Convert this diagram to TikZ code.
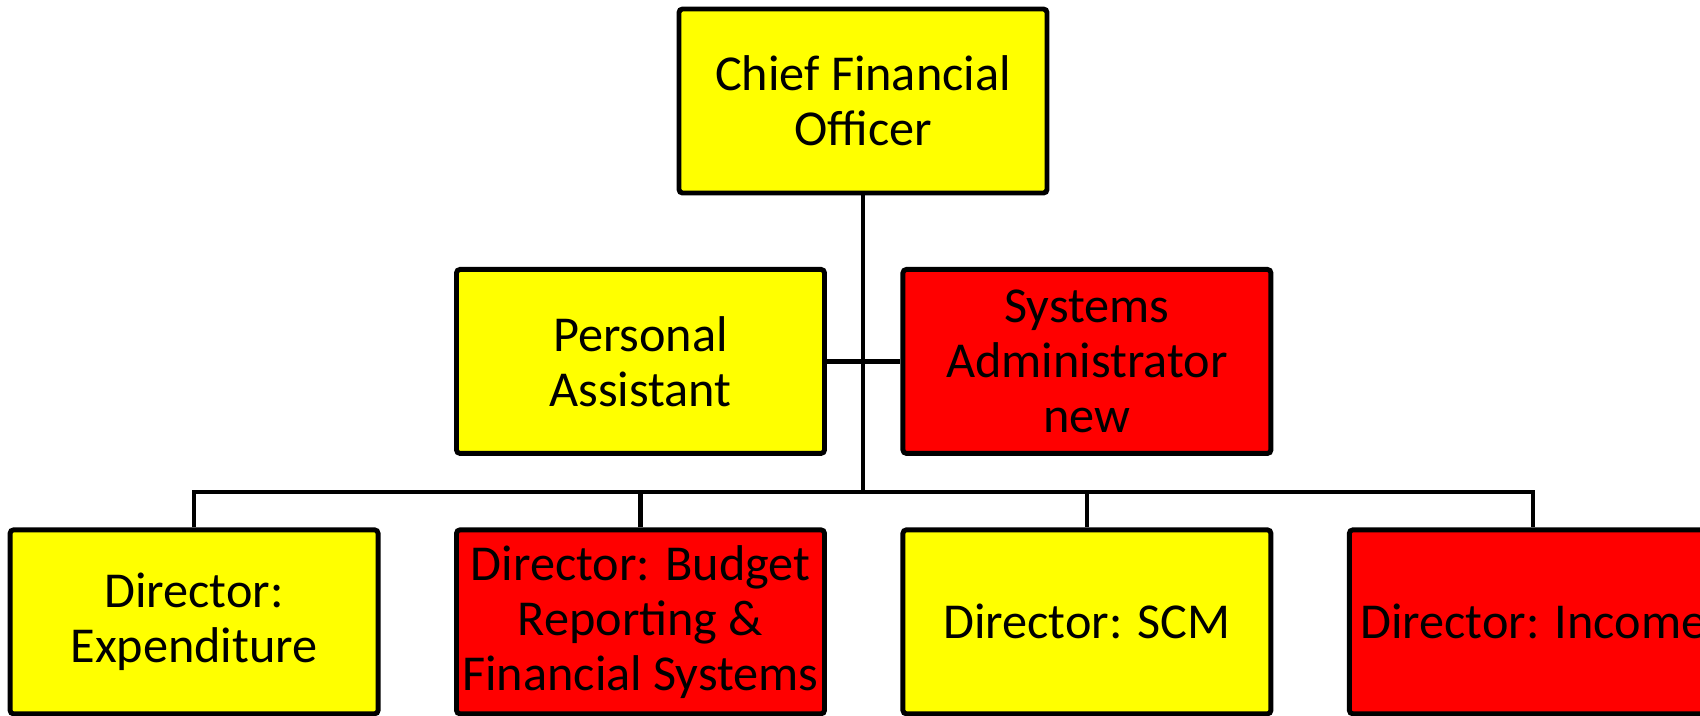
\documentclass[tikz,border=0pt]{standalone}
\usepackage{fontspec}
\setmainfont{Carlito}
\usetikzlibrary{positioning}

\definecolor{postyellow}{RGB}{255,255,0}
\definecolor{postred}{RGB}{255,0,0}

\tikzset{
    post/.style={rectangle,draw=black,line width=1.4pt,rounded corners=1pt,
        minimum width=3.68cm,minimum height=1.84cm,inner sep=1pt,align=center,
        font=\fontsize{14.3}{15.6}\selectfont},
    filled/.style={post,fill=postyellow},
    vacant/.style={post,fill=postred},
    link/.style={line width=1.2pt}
}

\begin{document}
\begin{tikzpicture}[node distance=0.715cm and 0.735cm]
    \useasboundingbox (0,0) rectangle (17,-7.15);

    \node[filled] (CFO) at (8.63,-1.01) {Chief Financial\\Officer};
    \node[filled,below=of CFO,xshift=-2.225cm] (PA) {Personal\\Assistant};
    \node[vacant,right=of PA] (SA) {Systems\\Administrator\\new};

    \node[vacant,below=of PA] (BRF) {Director: Budget\\Reporting \&\\Financial Systems};
    \node[filled,left=of BRF] (EXP) {Director:\\Expenditure};
    \node[filled,below=of SA] (SCM) {Director: SCM};
    \node[vacant,right=of SCM] (INC) {Director: Income};

    \coordinate (bus) at (CFO |- 0,-4.92);

    \draw[link] (CFO) -- (bus);
    \draw[link] (PA) -- (SA);
    \draw[link] (EXP.north) |- (bus) -| (INC.north);
    \foreach \u / \v in {BRF/bus,SCM/bus}
        \draw[link] (\u) -- (\u |- \v);
\end{tikzpicture}
\end{document}
